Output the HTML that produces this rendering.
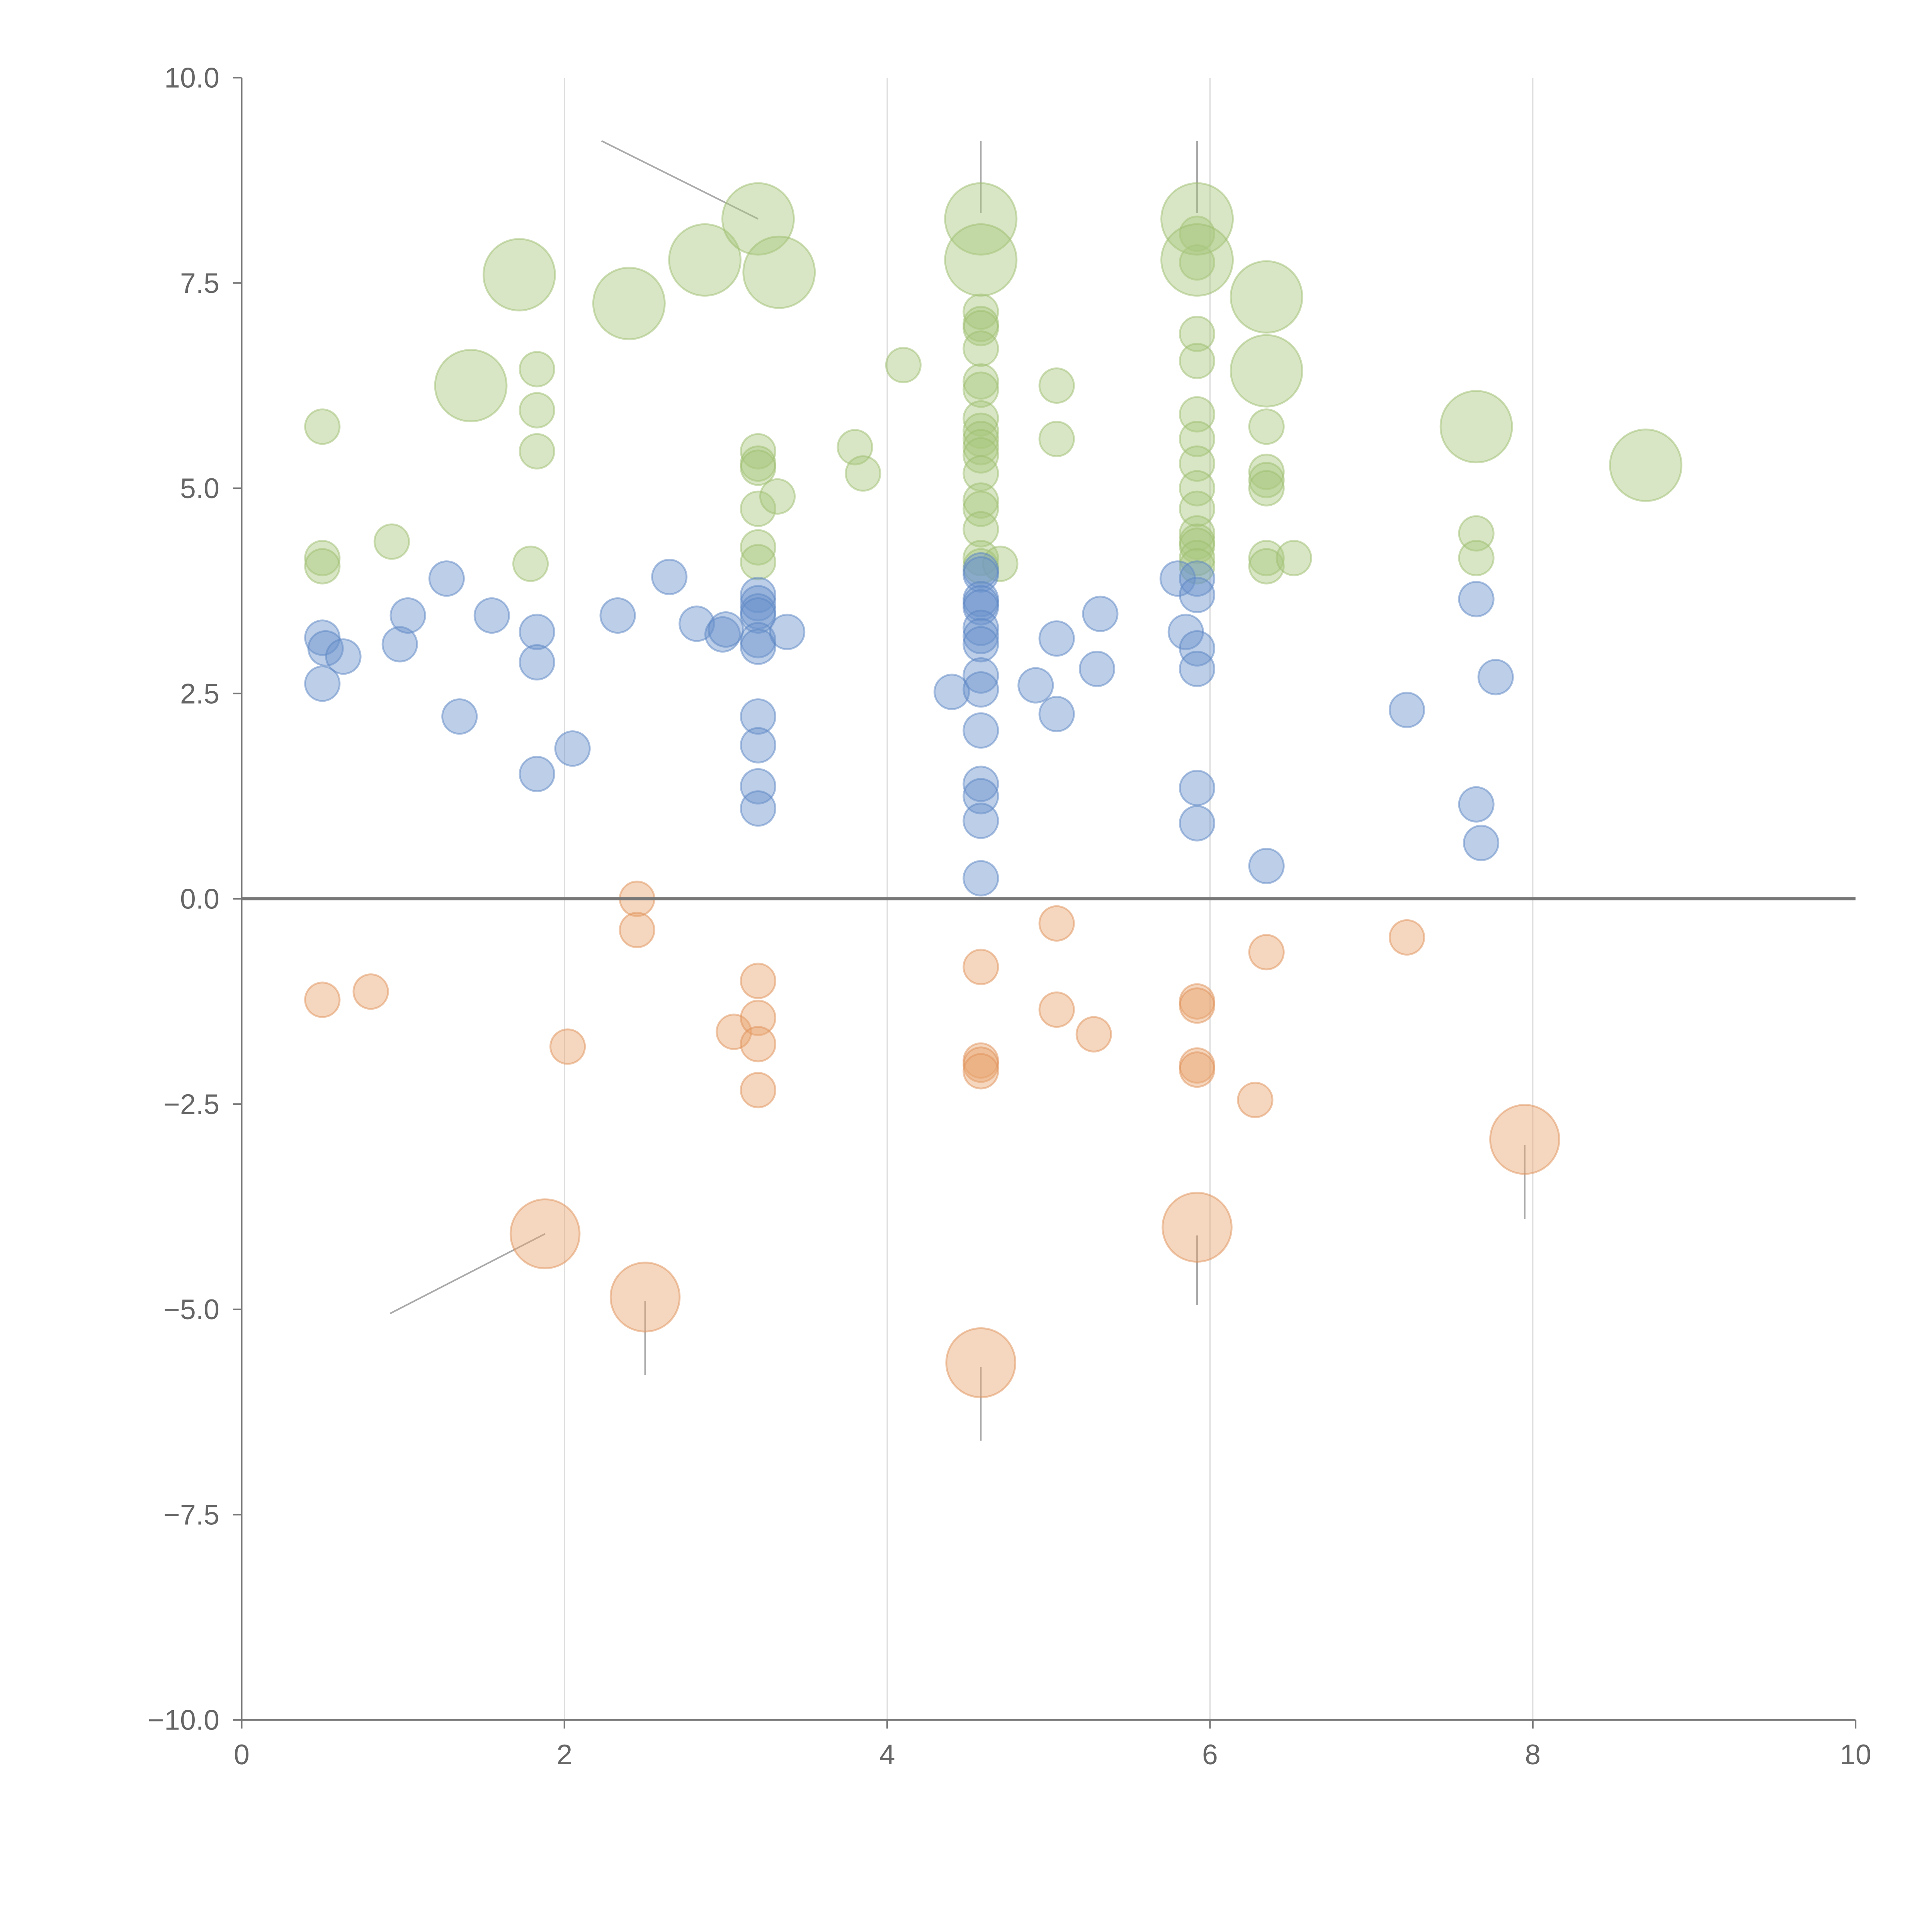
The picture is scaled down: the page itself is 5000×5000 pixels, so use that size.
<!DOCTYPE html>
<html><head><meta charset="utf-8"><style>
html,body{margin:0;padding:0;background:#fff;}
svg{display:block;}
text{font-family:"Liberation Sans",sans-serif;fill:#666;}
</style></head><body>
<svg id="chart" width="5000" height="5000" viewBox="0 0 1567 1567" xmlns="http://www.w3.org/2000/svg">
<g id="grid"></g>
<g id="lines"></g>
<g id="marks"></g>
<g id="axes"></g>
</svg>
<script>
const xTicks=[0,2,4,6,8,10];
const yTicks=[10,7.5,5,2.5,0,-2.5,-5,-7.5,-10];
const yTickLabels=["10.0","7.5","5.0","2.5","0.0","\u22122.5","\u22125.0","\u22127.5","\u221210.0"];
const greenSmallX=[0.5,0.5,0.5,0.93,1.83,1.83,1.83,1.79,3.2,3.2,3.2,3.2,3.32,3.2,3.2,3.8,3.85,4.1,4.58,4.58,4.58,4.58,4.58,4.58,4.58,4.58,4.58,4.58,4.58,4.58,4.58,4.58,4.58,4.58,4.58,4.7,5.05,5.05,5.92,5.92,5.92,5.92,5.92,5.92,5.92,5.92,5.92,5.92,5.92,5.92,5.92,5.92,6.35,6.35,6.35,6.35,6.35,6.35,6.52,7.65,7.65];
const greenSmallY=[5.75,4.15,4.05,4.35,6.45,5.95,5.45,4.08,5.45,5.3,5.25,4.75,4.9,4.28,4.1,5.5,5.18,6.5,7.15,7.0,6.95,6.7,6.3,6.2,5.85,5.7,5.6,5.5,5.4,5.18,4.85,4.75,4.5,4.15,4.05,4.08,6.25,5.6,8.1,7.75,6.88,6.55,5.9,5.6,5.3,5.0,4.75,4.45,4.35,4.3,4.15,4.05,5.75,5.2,5.1,5.0,4.15,4.05,4.15,4.45,4.15];
const greenLargeX=[1.72,1.42,2.4,2.87,3.2,3.33,4.58,4.58,5.92,5.92,6.35,6.35,7.65,8.7];
const greenLargeY=[7.6,6.25,7.25,7.78,8.28,7.63,8.28,7.78,8.28,7.78,7.33,6.43,5.75,5.28];
const blueX=[0.5,0.52,0.5,0.63,0.98,1.03,1.27,1.35,1.55,1.83,1.83,1.83,2.05,2.33,2.65,2.82,2.98,3.0,3.2,3.2,3.2,3.2,3.2,3.2,3.2,3.2,3.2,3.2,3.38,4.4,4.58,4.58,4.58,4.58,4.58,4.58,4.58,4.58,4.58,4.58,4.58,4.58,4.58,4.58,4.58,4.92,5.05,5.05,5.3,5.32,5.8,5.85,5.92,5.92,5.92,5.92,5.92,5.92,6.35,7.22,7.65,7.77,7.65,7.68];
const blueY=[3.18,3.05,2.62,2.95,3.1,3.45,3.9,2.22,3.45,3.25,2.88,1.52,1.83,3.45,3.92,3.35,3.22,3.28,3.7,3.6,3.5,3.45,3.15,3.07,2.22,1.87,1.37,1.1,3.25,2.52,4.0,3.95,3.65,3.6,3.55,3.3,3.2,3.1,2.72,2.55,2.05,1.4,1.25,0.95,0.25,2.6,3.17,2.25,2.8,3.47,3.9,3.25,3.9,3.7,3.05,2.8,1.35,0.92,0.4,2.3,3.65,2.7,1.15,0.68];
const orangeSmallX=[0.5,0.8,2.45,2.45,2.02,3.05,3.2,3.2,3.2,3.2,4.58,4.58,4.58,4.58,5.05,5.05,5.28,5.92,5.92,5.92,5.92,6.28,6.35,7.22];
const orangeSmallY=[-1.23,-1.13,0.0,-0.38,-1.8,-1.62,-1.0,-1.45,-1.77,-2.33,-0.83,-1.97,-2.02,-2.1,-0.3,-1.35,-1.65,-1.25,-1.3,-2.03,-2.08,-2.45,-0.65,-0.47];
const orangeLargeX=[1.88,2.5,4.58,5.92,7.95];
const orangeLargeY=[-4.08,-4.85,-5.65,-4.0,-2.93];
const leaderX1=[3.2,4.58,5.92,1.88,2.5,4.58,5.92,7.95];
const leaderY1=[8.28,8.35,8.35,-4.08,-4.9,-5.7,-4.1,-3.0];
const leaderX2=[2.23,4.58,5.92,0.92,2.5,4.58,5.92,7.95];
const leaderY2=[9.23,9.23,9.23,-5.05,-5.8,-6.6,-4.95,-3.9];

const X0=196,X1=1505,Y0=1395,Y1=63;
const sx=v=>X0+(v-0)/(10-0)*(X1-X0);
const sy=v=>Y0-(v+10)/20*(Y0-Y1);
const NS="http://www.w3.org/2000/svg";
function mk(tag,parent,attrs){const e=document.createElementNS(NS,tag);for(const k in attrs)e.setAttribute(k,attrs[k]);parent.appendChild(e);return e;}
const grid=document.getElementById('grid'),lines=document.getElementById('lines'),marks=document.getElementById('marks'),axes=document.getElementById('axes');

[2,4,6,8].forEach(v=>{
  const l=mk('line',grid,{x1:sx(v),x2:sx(v),y1:Y1,y2:Y0,stroke:'#ddd','stroke-width':1});
  
  
});
for(let i=0;i<leaderX1.length;i++){
  const l=mk('line',lines,{x1:sx(leaderX1[i]),y1:sy(leaderY1[i]),x2:sx(leaderX2[i]),y2:sy(leaderY2[i]),stroke:'#aaa','stroke-width':1.3});
  
  
}
function series(xs,ys,r,fill,stroke,name){
  for(let i=0;i<xs.length;i++){
    const c=mk('circle',marks,{cx:sx(xs[i]),cy:sy(ys[i]),r:r,fill:fill,'fill-opacity':0.45,stroke:stroke,'stroke-opacity':0.5,'stroke-width':1.5});
    
    
  }
}
series(greenSmallX,greenSmallY,14,'#a9c77e','#9dbd70','green-bubble');
series(greenLargeX,greenLargeY,29,'#a9c77e','#9dbd70','green-large-bubble');
series(blueX,blueY,14,'#6b93cc','#5b86c4','blue-bubble');
series(orangeSmallX,orangeSmallY,14,'#e9a46f','#e0925a','orange-bubble');
series(orangeLargeX,orangeLargeY,28,'#e9a46f','#e0925a','orange-large-bubble');

let a=mk('line',axes,{x1:X0,x2:X0,y1:Y1,y2:Y0,stroke:'#777','stroke-width':1.3});

a=mk('line',axes,{x1:X0,x2:X1,y1:Y0,y2:Y0,stroke:'#777','stroke-width':1.3});

a=mk('line',axes,{x1:X0,x2:X1,y1:sy(0),y2:sy(0),stroke:'#777','stroke-width':2.5});

xTicks.forEach(v=>{
  const t=mk('line',axes,{x1:sx(v),x2:sx(v),y1:Y0,y2:Y0+7,stroke:'#777','stroke-width':1.3});
  
  const tx=mk('text',axes,{x:sx(v),y:Y0+36,'text-anchor':'middle','font-size':23});
  tx.textContent=String(v);
  
});
yTicks.forEach((v,i)=>{
  const t=mk('line',axes,{x1:X0-7,x2:X0,y1:sy(v),y2:sy(v),stroke:'#777','stroke-width':1.3});
  
  const tx=mk('text',axes,{x:X0-18,y:sy(v)+8,'text-anchor':'end','font-size':23});
  tx.textContent=yTickLabels[i];
  
});
</script>
</body></html>
